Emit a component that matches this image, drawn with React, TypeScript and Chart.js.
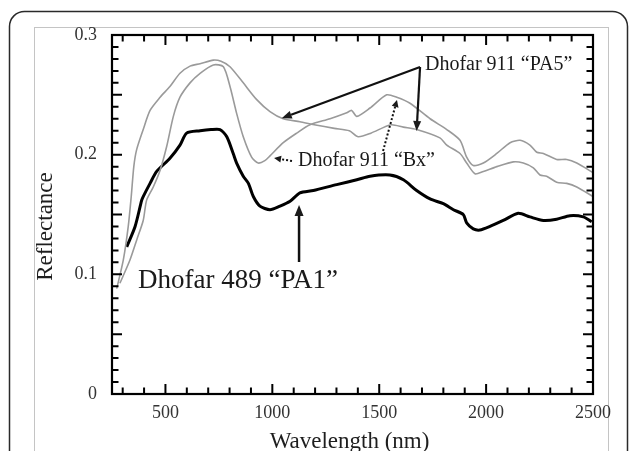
import { useEffect, useRef } from "react";
import { Chart, registerables } from "chart.js";

Chart.register(...registerables);

const SERIF = "'Liberation Serif', 'Times New Roman', Times, serif";

// ---- Data (wavelength in nm, reflectance) ----
const PA5_WL = [272, 303, 326, 340, 352, 365, 396, 428, 475, 521, 568, 615, 662, 724, 760, 802, 864, 927, 989, 1051, 1129, 1196, 1290, 1360, 1402, 1461, 1555, 1613, 1675, 1784, 1816, 1878, 1909, 1948, 1987, 2050, 2127, 2174, 2221, 2252, 2283, 2330, 2377, 2424, 2500];
const PA5_R = [0.088, 0.112, 0.140, 0.165, 0.190, 0.204, 0.221, 0.237, 0.248, 0.257, 0.268, 0.274, 0.276, 0.279, 0.278, 0.2735, 0.260, 0.246, 0.236, 0.230, 0.2275, 0.225, 0.222, 0.220, 0.215, 0.218, 0.225, 0.223, 0.221, 0.214, 0.208, 0.201, 0.193, 0.184, 0.186, 0.190, 0.194, 0.193, 0.189, 0.183, 0.182, 0.177, 0.176, 0.173, 0.165];

const BX_WL = [287, 334, 366, 396, 412, 443, 475, 506, 537, 568, 615, 662, 724, 771, 802, 833, 864, 903, 934, 965, 989, 1051, 1114, 1176, 1270, 1348, 1371, 1395, 1457, 1535, 1582, 1644, 1738, 1816, 1878, 1909, 1940, 1987, 2050, 2112, 2159, 2205, 2237, 2268, 2330, 2377, 2424, 2500];
const BX_R = [0.0925, 0.112, 0.129, 0.145, 0.162, 0.173, 0.187, 0.207, 0.232, 0.248, 0.260, 0.268, 0.275, 0.2735, 0.257, 0.2345, 0.215, 0.198, 0.193, 0.195, 0.199, 0.210, 0.218, 0.225, 0.230, 0.235, 0.237, 0.232, 0.239, 0.250, 0.248, 0.243, 0.230, 0.221, 0.212, 0.198, 0.191, 0.193, 0.201, 0.210, 0.212, 0.208, 0.202, 0.201, 0.196, 0.196, 0.193, 0.185];

const PA1_WL = [319, 358, 389, 396, 428, 459, 521, 568, 599, 662, 713, 755, 787, 817, 833, 864, 888, 911, 942, 989, 1036, 1083, 1129, 1192, 1301, 1395, 1457, 1550, 1613, 1675, 1738, 1800, 1847, 1893, 1909, 1940, 1971, 2018, 2080, 2150, 2205, 2268, 2330, 2392, 2455, 2494];
const PA1_R = [0.123, 0.140, 0.162, 0.165, 0.176, 0.186, 0.197, 0.208, 0.218, 0.220, 0.221, 0.221, 0.215, 0.201, 0.193, 0.182, 0.176, 0.165, 0.157, 0.154, 0.157, 0.161, 0.168, 0.170, 0.175, 0.179, 0.182, 0.183, 0.179, 0.170, 0.163, 0.159, 0.154, 0.150, 0.143, 0.138, 0.137, 0.140, 0.145, 0.151, 0.148, 0.145, 0.146, 0.149, 0.148, 0.144];

// ---- Axes ----
const X_MIN = 250;
const X_MAX = 2500;
const Y_MIN = 0;
const Y_MAX = 0.3;
const X_TICKS = [500, 1000, 1500, 2000, 2500];
const X_TICK_LABELS = ["500", "1000", "1500", "2000", "2500"];
const Y_TICKS = [0, 0.1, 0.2, 0.3];
const Y_TICK_LABELS = ["0", "0.1", "0.2", "0.3"];
const X_MINOR_STEP = 100;
const X_MAJOR_STEP = 500;
const Y_MINOR_STEP = 0.01;
const Y_MAJOR_EVERY = 5;
const X_TITLE = "Wavelength (nm)";
const Y_TITLE = "Reflectance";

// ---- Annotations (in data coordinates) ----
const PA5_TEXT = "Dhofar 911 \u201cPA5\u201d";
const PA5_TEXT_AT = [1714, 0.275];
const PA5_APEX = [1691, 0.2733];
const PA5_TIPS = [
  [1044, 0.2304],
  [1675, 0.2198],
];
const BX_TEXT = "Dhofar 911 \u201cBx\u201d";
const BX_TEXT_AT = [1120, 0.1947];
const BX_ARROWS = [
  [1092, 0.1947, 1008, 0.1972],
  [1518, 0.2031, 1583, 0.2457],
];
const PA1_TEXT = "Dhofar 489 \u201cPA1\u201d";
const PA1_TEXT_AT = [372, 0.0944];
const PA1_ARROW = [1125, 0.1103, 1125, 0.158];

function drawArrow(
  ctx: CanvasRenderingContext2D,
  x1: number,
  y1: number,
  x2: number,
  y2: number,
  width: number,
  head: number,
  headW: number,
  dash: number[] = []
) {
  const ang = Math.atan2(y2 - y1, x2 - x1);
  const bx = x2 - Math.cos(ang) * head;
  const by = y2 - Math.sin(ang) * head;
  ctx.setLineDash(dash);
  ctx.lineWidth = width;
  ctx.beginPath();
  ctx.moveTo(x1, y1);
  ctx.lineTo(bx, by);
  ctx.stroke();
  ctx.setLineDash([]);
  ctx.beginPath();
  ctx.moveTo(x2, y2);
  ctx.lineTo(bx + Math.sin(ang) * headW, by - Math.cos(ang) * headW);
  ctx.lineTo(bx - Math.sin(ang) * headW, by + Math.cos(ang) * headW);
  ctx.closePath();
  ctx.fill();
}

const decorPlugin = {
  id: "decor",
  beforeDraw(chart: any) {
    const ctx: CanvasRenderingContext2D = chart.ctx;
    ctx.save();
    ctx.fillStyle = "#ffffff";
    ctx.fillRect(0, 0, chart.width, chart.height);
    // outer rounded frame
    ctx.strokeStyle = "#2a2a2a";
    ctx.lineWidth = 1.5;
    ctx.beginPath();
    (ctx as any).roundRect(9.5, 11.5, 618, 520, 15);
    ctx.stroke();
    // inner light frame
    ctx.strokeStyle = "#c4c4c4";
    ctx.lineWidth = 1;
    ctx.strokeRect(34.5, 27.5, 574, 500);
    ctx.restore();
  },
  afterDatasetsDraw(chart: any) {
    const ctx: CanvasRenderingContext2D = chart.ctx;
    const a = chart.chartArea;
    const x = chart.scales.x;
    const y = chart.scales.y;
    ctx.save();
    // plot border
    ctx.strokeStyle = "#000";
    ctx.lineWidth = 2.2;
    ctx.strokeRect(a.left, a.top, a.right - a.left, a.bottom - a.top);
    // ticks (inward, mirrored)
    ctx.lineWidth = 2;
    ctx.beginPath();
    const xStart = Math.ceil(X_MIN / X_MINOR_STEP);
    const xEnd = Math.floor(X_MAX / X_MINOR_STEP);
    for (let i = xStart; i < xEnd; i++) {
      const v = i * X_MINOR_STEP;
      const px = x.getPixelForValue(v);
      const len = v % X_MAJOR_STEP === 0 ? 10 : 6.5;
      ctx.moveTo(px, a.bottom);
      ctx.lineTo(px, a.bottom - len);
      ctx.moveTo(px, a.top);
      ctx.lineTo(px, a.top + len);
    }
    const yCount = Math.round((Y_MAX - Y_MIN) / Y_MINOR_STEP);
    for (let i = 1; i < yCount; i++) {
      const v = Y_MIN + i * Y_MINOR_STEP;
      const py = y.getPixelForValue(v);
      const len = i % Y_MAJOR_EVERY === 0 ? 10 : 6.5;
      ctx.moveTo(a.left, py);
      ctx.lineTo(a.left + len, py);
      ctx.moveTo(a.right, py);
      ctx.lineTo(a.right - len, py);
    }
    ctx.stroke();

    // axis titles
    ctx.fillStyle = "#1e1e1e";
    ctx.font = `23px ${SERIF}`;
    ctx.textAlign = "center";
    ctx.textBaseline = "alphabetic";
    ctx.fillText(X_TITLE, (a.left + a.right) / 2 - 3, 448);
    ctx.save();
    ctx.translate(52, (a.top + a.bottom) / 2 + 12);
    ctx.rotate(-Math.PI / 2);
    ctx.fillText(Y_TITLE, 0, 0);
    ctx.restore();

    // annotations
    const P = (wl: number, r: number) => [x.getPixelForValue(wl), y.getPixelForValue(r)];
    ctx.fillStyle = "#1a1a1a";
    ctx.strokeStyle = "#111";
    ctx.textAlign = "left";
    ctx.textBaseline = "middle";

    ctx.font = `20px ${SERIF}`;
    const [tx, ty] = P(PA5_TEXT_AT[0], PA5_TEXT_AT[1]);
    ctx.fillText(PA5_TEXT, tx, ty);
    const [ax, ay] = P(PA5_APEX[0], PA5_APEX[1]);
    for (const t of PA5_TIPS) {
      const [ex, ey] = P(t[0], t[1]);
      drawArrow(ctx, ax, ay, ex, ey, 2.2, 10, 4);
    }

    const [bx, by] = P(BX_TEXT_AT[0], BX_TEXT_AT[1]);
    ctx.fillText(BX_TEXT, bx, by);
    for (const arr of BX_ARROWS) {
      const [sx, sy] = P(arr[0], arr[1]);
      const [ex, ey] = P(arr[2], arr[3]);
      drawArrow(ctx, sx, sy, ex, ey, 2, 7, 3.5, [2, 2]);
    }

    ctx.font = `27px ${SERIF}`;
    const [px1, py1] = P(PA1_TEXT_AT[0], PA1_TEXT_AT[1]);
    ctx.fillText(PA1_TEXT, px1, py1);
    const [s1x, s1y] = P(PA1_ARROW[0], PA1_ARROW[1]);
    const [e1x, e1y] = P(PA1_ARROW[2], PA1_ARROW[3]);
    drawArrow(ctx, s1x, s1y, e1x, e1y, 2.5, 11, 4.5);

    ctx.restore();
  },
};

function toPoints(xs: number[], ys: number[]) {
  return xs.map((v, i) => ({ x: v, y: ys[i] }));
}

export default function App() {
  const canvasRef = useRef<HTMLCanvasElement | null>(null);

  useEffect(() => {
    if (!canvasRef.current) return;
    const chart = new Chart(canvasRef.current, {
      type: "line",
      data: {
        datasets: [
          {
            label: "Dhofar 911 PA5",
            data: toPoints(PA5_WL, PA5_R),
            borderColor: "#9a9a9a",
            borderWidth: 1.6,
            pointRadius: 0,
            tension: 0.25,
            fill: false,
          },
          {
            label: "Dhofar 911 Bx",
            data: toPoints(BX_WL, BX_R),
            borderColor: "#9a9a9a",
            borderWidth: 1.6,
            pointRadius: 0,
            tension: 0.25,
            fill: false,
          },
          {
            label: "Dhofar 489 PA1",
            data: toPoints(PA1_WL, PA1_R),
            borderColor: "#000000",
            borderWidth: 3,
            pointRadius: 0,
            tension: 0.25,
            fill: false,
          },
        ],
      },
      options: {
        animation: false,
        responsive: false,
        devicePixelRatio: 1,
        layout: { padding: { top: 35, right: 36, left: 0, bottom: 0 } },
        plugins: {
          legend: { display: false },
          tooltip: { enabled: false },
          title: { display: false },
        },
        scales: {
          x: {
            type: "linear",
            min: X_MIN,
            max: X_MAX,
            afterFit: (s: any) => {
              s.height = 57;
            },
            afterBuildTicks: (s: any) => {
              s.ticks = X_TICKS.map((v) => ({ value: v }));
            },
            grid: { display: false, drawTicks: false },
            border: { display: false },
            ticks: {
              autoSkip: false,
              maxRotation: 0,
              padding: 10,
              color: "#333",
              font: { family: SERIF, size: 18, lineHeight: 1 },
              callback: (v: any) => X_TICK_LABELS[X_TICKS.indexOf(Number(v))] ?? "",
            },
          },
          y: {
            type: "linear",
            min: Y_MIN,
            max: Y_MAX,
            afterFit: (s: any) => {
              s.width = 112;
            },
            afterBuildTicks: (s: any) => {
              s.ticks = Y_TICKS.map((v) => ({ value: v }));
            },
            grid: { display: false, drawTicks: false },
            border: { display: false },
            ticks: {
              autoSkip: false,
              padding: 15,
              color: "#333",
              font: { family: SERIF, size: 18, lineHeight: 1 },
              callback: (v: any) => Y_TICK_LABELS[Y_TICKS.indexOf(Number(v))] ?? "",
            },
          },
        },
      },
      plugins: [decorPlugin],
    });
    return () => chart.destroy();
  }, []);

  return (
    <div style={{ position: "fixed", left: 0, top: 0, width: 629, height: 451 }}>
      <canvas ref={canvasRef} width={629} height={451} style={{ width: 629, height: 451, display: "block" }} />
    </div>
  );
}
